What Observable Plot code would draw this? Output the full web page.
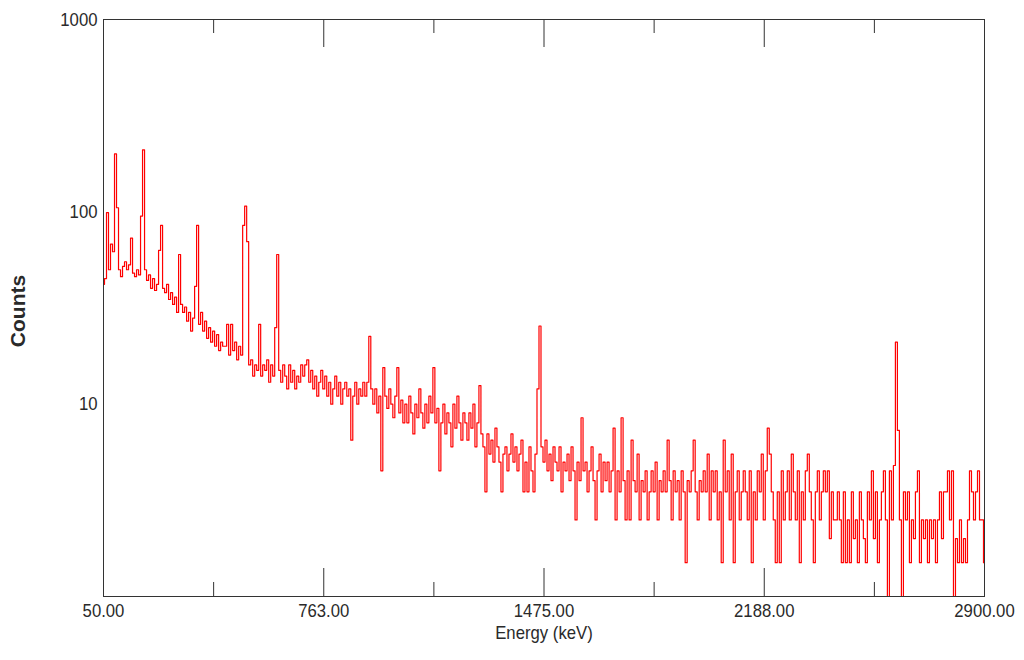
<!DOCTYPE html>
<html><head><meta charset="utf-8">
<script src="https://cdn.jsdelivr.net/npm/d3@7"></script>
<script src="https://cdn.jsdelivr.net/npm/@observablehq/plot@0.6"></script>
<style>
html,body{margin:0;padding:0;background:#fff;}
#chart svg{display:block;}
</style></head><body><div id="chart"></div>
<script>
// Spectrum counts per channel, channels evenly spaced from 50 to 2900 keV
const counts = [
42,45,99,50,68,62,200,105,50,46,
52,55,50,53,73,48,46,50,47,95,
210,50,44,47,40,45,39,42,63,85,
40,38,42,35,38,33,36,30,60,33,
30,32,27,30,24,28,41,85,26,30,
24,27,22,25,21,24,20,23,19,21,
20,20,26,18,26,19,21,17,20,18,
85,107,70,16,17,14,16,15,26,14,
16,15,17,13,16,14,25,60,15,13,
16,14,12,16,13,15,12,14,13,16,
14,16,17,13,15,12,14,11,13,15,
12,14,11,13,10,12,14,11,13,10,
12,13,11,12,6.5,11,13,10,12,11,
13,11,13,22.5,12,10,12,9,11,4.5,
15.5,11,9.5,12,10,8.5,11,15.5,9,10.5,
8,10,8,11,9,7,10,8.5,12,9,
7.5,10,8,11,9,15.5,8,9.5,4.5,8,
10,7,9,8,6,10,7.5,11,8,6.5,
9,8,6.5,9,7.5,10,6,8,12.5,7,
6,3.5,7,5.5,6.5,5,7.5,6,5,3.5,
5.5,6,4.5,5.5,7,5,6,4.5,5.5,6.5,
3.5,5,3.5,6,4.5,3.5,5.5,12,25.5,6,
5,6.5,4.5,5.5,4,6,5,4.5,6,3.5,
5,4.5,5.5,4,6,4.5,2.5,5,4,8.5,
4.5,5,3.5,4.5,6,4,2.5,4.5,5.5,3.5,
5,4,5,3.5,4.5,7.5,2.5,4.5,3.5,8.5,
4,2.5,4.5,2.5,6.5,4,3.5,5.5,2.5,4,
3.5,4.5,2.5,3.5,4.5,3.5,5,2.5,4,3.5,
4.5,3.5,6.5,4,2.5,4.5,3.5,4,2.5,4.5,
3.5,1.5,4,3.5,4.5,6.5,3.5,2.5,4,3.5,
4.5,3.5,5.5,2.5,4.5,3.5,4.5,2.5,3.5,1.5,
6.5,3.5,4.5,2.5,5.5,1.5,3.5,4.5,2.5,3.5,
4.5,3.5,2.5,4.5,1.5,3.5,2.5,4.5,3.5,5.5,
2.5,4.5,7.5,5.5,3.5,2.5,1.5,3.5,1.5,4.5,
2.5,3.5,4.5,2.5,5.5,3.5,2.5,4.5,1.5,3.5,
2.5,4.5,5.5,3.5,2.5,1.5,3.5,4.5,2.5,3.5,
4.5,3.5,4.5,2,3.5,2.5,2.5,3.5,2.5,1.5,
3.5,1.5,2.5,1.5,3.5,2,2.5,1.5,3.5,2.5,
2,1.5,3.5,2.5,4.5,2,3.5,1.5,2.5,3.5,
4.5,2.5,0.5,4.5,2.5,4.8,21,7.3,2.5,0.5,
3.5,2.5,3.5,1.5,2.5,2,3.5,4.5,1.5,2.5,
2,2.5,1.5,2.5,2,2.5,1.5,2.5,3.5,2,
3.5,3.5,4.5,2.5,4.5,0.5,2,1.5,2.5,1.5,
2,1.5,2.5,4.5,3.5,2.5,3.5,4.5,2.5,2.5,
1.5
];
const energyStart = 50;
const energyEnd = 2900;
const xTickValues = [50, 762.5, 1475, 2187.5, 2900];
const xTickLabels = ["50.00", "763.00", "1475.00", "2188.00", "2900.00"];
const xMinorTicks = [406.25, 1118.75, 1831.25, 2543.75];
const yTickValues = [10, 100, 1000];
const yTickLabels = ["10", "100", "1000"];
const xTitle = "Energy (keV)";
const yTitle = "Counts";

const gain = (energyEnd - energyStart) / (counts.length - 1);
const spectrum = counts.map((c, i) => ({energy: energyStart + i * gain, counts: c}));

const W = 1024, H = 660, mt = 19, mb = 64, ml = 103, mr = 40;
const frameH = H - mt - mb;
const axisColor = "#333";
const sans = "'Liberation Sans',Arial,sans-serif";

const chart = Plot.plot({
  width: W, height: H,
  marginTop: mt, marginBottom: mb, marginLeft: ml, marginRight: mr,
  style: {fontFamily: sans, fontSize: "19px", color: "#2a2a2a", background: "#fff"},
  x: {domain: [energyStart, energyEnd]},
  y: {type: "log", domain: [1, 1000]},
  marks: [
    Plot.line(spectrum, {x: "energy", y: "counts", stroke: "#ff0000", strokeWidth: 1.2, curve: "step", clip: true}),
    Plot.frame({stroke: axisColor}),
    Plot.tickX(xTickValues, {x: d => d, stroke: axisColor, insetTop: frameH - 28}),
    Plot.tickX(xMinorTicks, {x: d => d, stroke: axisColor, insetTop: frameH - 14}),
    Plot.tickX(xTickValues, {x: d => d, stroke: axisColor, insetBottom: frameH - 28}),
    Plot.tickX(xMinorTicks, {x: d => d, stroke: axisColor, insetBottom: frameH - 14}),
    Plot.axisX({ticks: xTickValues, tickSize: 0, tickPadding: 7, label: null, className: "narrow",
      tickFormat: d => xTickLabels[xTickValues.indexOf(d)]}),
    Plot.axisY({ticks: yTickValues, tickSize: 0, tickPadding: 6, label: null, className: "narrow",
      tickFormat: d => yTickLabels[yTickValues.indexOf(d)]}),
    Plot.text([xTitle], {text: d => d, frameAnchor: "bottom", dy: 42, className: "narrow"}),
    Plot.text([yTitle], {text: d => d, frameAnchor: "left", textAnchor: "middle", dx: -85, dy: 3, rotate: -90,
      fontWeight: "bold", fontSize: 21})
  ]
});
document.getElementById("chart").appendChild(chart);

// The reference uses a narrow sans face; condense the regular labels horizontally.
const squeeze = 0.88;
chart.querySelectorAll(".narrow text").forEach(t => {
  const len = t.getComputedTextLength();
  if (len > 0) {
    t.setAttribute("textLength", (len * squeeze).toFixed(1));
    t.setAttribute("lengthAdjust", "spacingAndGlyphs");
  }
});
</script>
</body></html>
